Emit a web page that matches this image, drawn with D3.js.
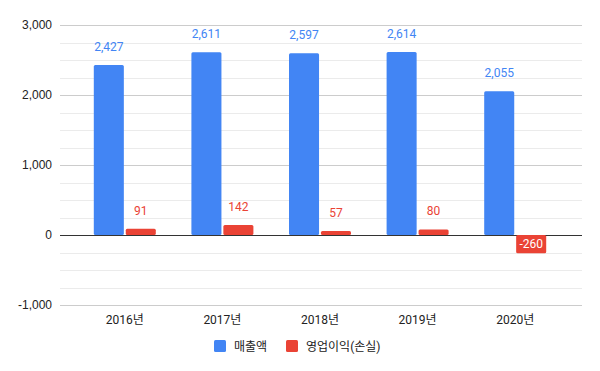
<!DOCTYPE html>
<html>
<head>
<meta charset="utf-8">
<script src="https://cdn.jsdelivr.net/npm/d3@7"></script>
<style>
  body { margin: 0; background: #fff; }
  svg { font-family: Roboto, "Noto Sans CJK KR", sans-serif; }
</style>
</head>
<body>
<svg id="chart" width="600" height="371"></svg>
<script>
const years = ['2016년', '2017년', '2018년', '2019년', '2020년'];
const sales = [2427, 2611, 2597, 2614, 2055];
const opIncome = [91, 142, 57, 80, -260];
const seriesNames = ['매출액', '영업이익(손실)'];
const seriesColors = ['#4285f4', '#ea4335'];
const yTicks = [-1000, 0, 1000, 2000, 3000];

const svg = d3.select('#chart');
const gridLeft = 60, gridRight = 582;
// plain hyphen for negatives, like the original
const fmt = v => d3.format(',')(v).replace('\u2212', '-');

const y = d3.scaleLinear().domain([-1000, 3000]).range([305, 25]);
const x = d3.scaleBand().domain(years).range([76, 564]);
const inner = d3.scaleBand().domain([0, 1]).range([0, 62]).paddingInner(0.06);

// minor gridlines
const minor = d3.range(-1000, 3001, 250).filter(v => v % 1000 !== 0);
svg.append('g').selectAll('line').data(minor).join('line')
  .attr('x1', gridLeft).attr('x2', gridRight)
  .attr('y1', d => Math.round(y(d)) + 0.5).attr('y2', d => Math.round(y(d)) + 0.5)
  .attr('stroke', '#ebebeb');

// major gridlines + labels
const yAxis = d3.axisLeft(y).tickValues(yTicks).tickSize(-(gridRight - gridLeft))
  .tickFormat(fmt);
const ya = svg.append('g').attr('transform', `translate(${gridLeft},0)`).call(yAxis);
ya.select('.domain').remove();
ya.selectAll('.tick line').attr('stroke', d => d === 0 ? '#333' : '#ccc');
ya.selectAll('.tick text').attr('x', -8).attr('fill', '#222').style('font-size', '12px');

const data = years.map((yr, i) => ({ yr, vals: [sales[i], opIncome[i]] }));
const groups = svg.append('g').selectAll('g').data(data).join('g')
  .attr('transform', d => `translate(${x(d.yr) + (x.bandwidth() - 62) / 2},0)`);

groups.selectAll('rect').data(d => d.vals.map((v, k) => ({ v, k }))).join('rect')
  .attr('x', d => inner(d.k))
  .attr('width', inner.bandwidth())
  .attr('y', d => y(Math.max(0, d.v)))
  .attr('height', d => Math.abs(y(d.v) - y(0)))
  .attr('rx', 1.5)
  .attr('fill', d => seriesColors[d.k]);

groups.selectAll('text').data(d => d.vals.map((v, k) => ({ v, k }))).join('text')
  .attr('x', d => inner(d.k) + inner.bandwidth() / 2)
  .attr('y', d => d.v >= 0 ? y(d.v) - 14 : y(0) + 13)
  .attr('text-anchor', 'middle')
  .attr('fill', d => d.v >= 0 ? seriesColors[d.k] : '#fff')
  .style('font-size', '12px')
  .text(d => fmt(d.v));

// x axis labels
svg.append('g').selectAll('text').data(years).join('text')
  .attr('x', d => x(d) + x.bandwidth() / 2)
  .attr('y', 324)
  .attr('text-anchor', 'middle')
  .attr('fill', '#222')
  .style('font-size', '12px')
  .text(d => d);

// legend
const legendX = [214, 286];
const lg = svg.append('g').selectAll('g').data(seriesNames).join('g')
  .attr('transform', (d, i) => `translate(${legendX[i]},340)`);
lg.append('rect').attr('width', 12).attr('height', 12).attr('rx', 1.5)
  .attr('fill', (d, i) => seriesColors[i]);
lg.append('text').attr('x', 20).attr('y', 10.5)
  .attr('fill', '#222').style('font-size', '12px').text(d => d);
</script>
</body>
</html>
